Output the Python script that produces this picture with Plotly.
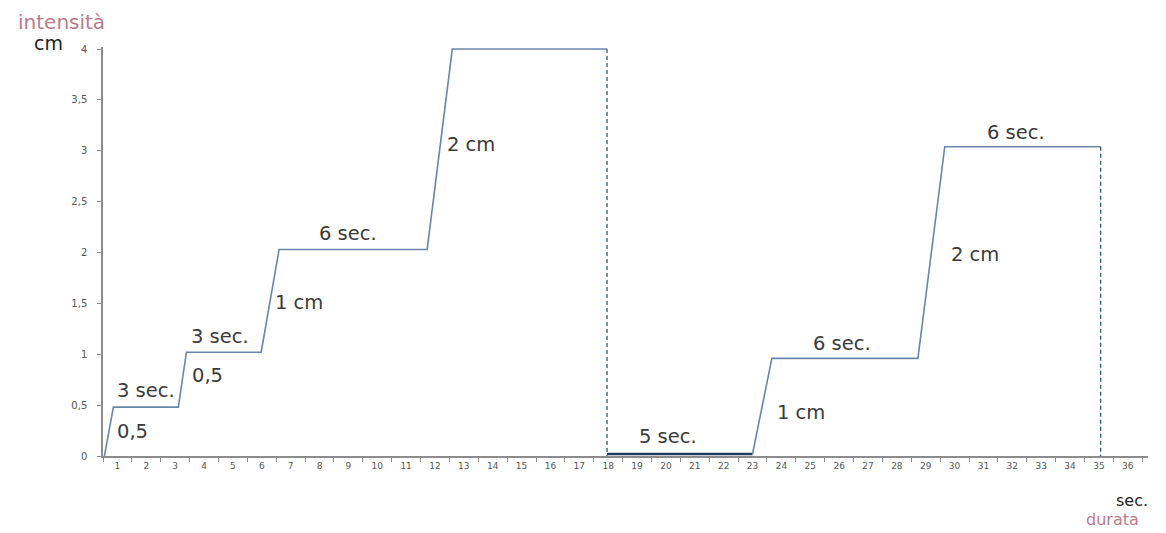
import plotly.graph_objects as go

# ---- data ----
ticks_x = list(range(1, 37))
tick_y = [0, 0.5, 1, 1.5, 2, 2.5, 3, 3.5, 4]
tick_y_text = ["0", "0,5", "1", "1,5", "2", "2,5", "3", "3,5", "4"]

# first ramp (seconds, cm)
ramp1_x = [0.55, 0.86, 3.11, 3.39, 5.98, 6.6, 11.73, 12.6, 17.96]
ramp1_y = [0.0, 0.48, 0.48, 1.02, 1.02, 2.03, 2.03, 4.0, 4.0]

# rest segment
rest_x = [17.96, 23.0]
rest_y = [0.02, 0.02]

# second ramp
ramp2_x = [23.0, 23.67, 28.73, 29.66, 35.06]
ramp2_y = [0.02, 0.96, 0.96, 3.04, 3.04]

# vertical drops
drop_x = [17.96, 35.06]
drop_top = [4.0, 3.04]

# segment labels: (text, x, y)
seg_text = ["0,5", "3 sec.", "0,5", "3 sec.", "1 cm", "6 sec.", "2 cm", "6 sec.",
            "5 sec.", "1 cm", "6 sec.", "2 cm", "6 sec."]
seg_x = [1.52, 2.0, 4.12, 4.57, 7.30, 9.0, 13.25, 15.37, 20.07, 24.68, 26.1, 30.70, 32.12]
seg_y = [0.245, 0.64, 0.79, 1.17, 1.51, 2.19, 3.06, 4.14, 0.19, 0.43, 1.11, 1.98, 3.18]

LINE = "#6886ab"
NAVY = "#1f3a5a"
DASH = "#2b5a78"
TXT = "#3a3a3a"
PINK = "#b87b8c"
FONT = "DejaVu Sans"

fig = go.Figure()
fig.add_trace(go.Scatter(x=ramp1_x, y=ramp1_y, mode="lines",
                         line=dict(color=LINE, width=1.6), showlegend=False, hoverinfo="skip"))
fig.add_trace(go.Scatter(x=rest_x, y=rest_y, mode="lines",
                         line=dict(color=NAVY, width=2.6), showlegend=False, hoverinfo="skip"))
fig.add_trace(go.Scatter(x=ramp2_x, y=ramp2_y, mode="lines",
                         line=dict(color=LINE, width=1.6), showlegend=False, hoverinfo="skip"))
for dx, dt in zip(drop_x, drop_top):
    fig.add_trace(go.Scatter(x=[dx, dx], y=[dt, 0], mode="lines",
                             line=dict(color=DASH, width=1.3, dash="4px,3px"),
                             showlegend=False, hoverinfo="skip"))

for t, x, y in zip(seg_text, seg_x, seg_y):
    fig.add_annotation(x=x, y=y, xref="x", yref="y", text=t, showarrow=False,
                       font=dict(family=FONT, size=19.5, color=TXT),
                       xanchor="center", yanchor="middle")

fig.add_annotation(x=-0.040, y=1.061, xref="paper", yref="paper", text="intensità",
                   showarrow=False, font=dict(family=FONT, size=20, color=PINK),
                   xanchor="center", yanchor="middle")
fig.add_annotation(x=-0.0517, y=1.0098, xref="paper", yref="paper", text="cm",
                   showarrow=False, font=dict(family=FONT, size=19, color="#222222"),
                   xanchor="center", yanchor="middle")
fig.add_annotation(x=0.9847, y=-0.1076, xref="paper", yref="paper", text="sec.",
                   showarrow=False, font=dict(family=FONT, size=16, color="#222222"),
                   xanchor="center", yanchor="middle")
fig.add_annotation(x=0.9665, y=-0.155, xref="paper", yref="paper", text="durata",
                   showarrow=False, font=dict(family=FONT, size=16, color=PINK),
                   xanchor="center", yanchor="middle")

fig.update_layout(
    width=1166, height=533,
    margin=dict(l=103, r=18, t=47, b=77),
    paper_bgcolor="white", plot_bgcolor="white",
    xaxis=dict(range=[0.5, 36.7], tickmode="array", tickvals=ticks_x,
               ticktext=[str(v) for v in ticks_x], ticks="", showgrid=False,
               zeroline=False, showline=True, linecolor="#8c8c8c", linewidth=1.5,
               tickfont=dict(family=FONT, size=9, color="#555555"),
               minor=dict(tick0=0.5, dtick=1, ticks="outside", ticklen=4,
                          tickcolor="#8c8c8c", showgrid=False)),
    yaxis=dict(range=[0, 4.02], tickmode="array", tickvals=tick_y, ticktext=tick_y_text,
               ticks="outside", ticklen=4, tickcolor="#8c8c8c", showgrid=False,
               zeroline=False, showline=True, linecolor="#8c8c8c", linewidth=1.5,
               ticklabelstandoff=8,
               tickfont=dict(family=FONT, size=10, color="#555555")),
)

fig.write_html("out.html", config={"displayModeBar": False},
               post_script="document.body.style.margin='0';document.body.style.overflow='hidden';")
